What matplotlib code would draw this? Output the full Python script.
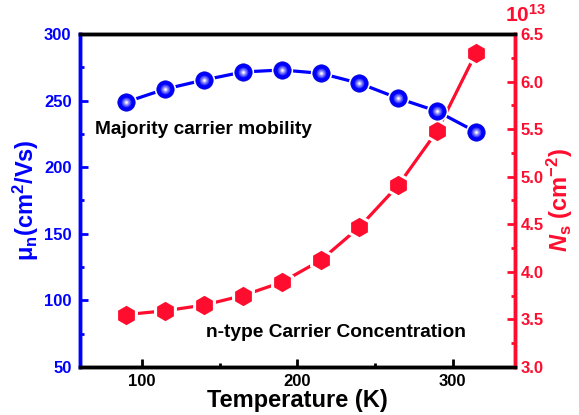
import matplotlib
matplotlib.use("Agg")
import matplotlib.pyplot as plt
from matplotlib.ticker import MultipleLocator, FormatStrFormatter

plt.rcParams['font.family'] = ['Liberation Sans', 'DejaVu Sans']
plt.rcParams['font.weight'] = 'bold'
plt.rcParams['axes.labelweight'] = 'bold'
plt.rcParams['mathtext.fontset'] = 'custom'
plt.rcParams['mathtext.rm'] = 'Liberation Sans:bold'
plt.rcParams['mathtext.it'] = 'Liberation Sans:bold:italic'
plt.rcParams['mathtext.bf'] = 'Liberation Sans:bold'

temperature = [90, 115, 140, 165, 190, 215, 240, 265, 290, 315]
mobility = [249, 258.7, 265.5, 271.5, 273, 270.5, 263, 251.7, 242, 226.5]
concentration = [3.55, 3.59, 3.65, 3.75, 3.89, 4.12, 4.47, 4.91, 5.48, 6.30]

BLUE = '#0000ff'
RED = '#ff0d2e'

fig = plt.figure(figsize=(5.79, 4.15), dpi=100)
ax = fig.add_axes([0.138, 0.116, 0.751, 0.802])
ax2 = ax.twinx()

# mobility line + sphere-like markers
ax.plot(temperature, mobility, color=BLUE, lw=2.3, zorder=2)
ax.plot(temperature, mobility, ls='none', marker='o', ms=13, mfc=BLUE,
        mec='white', mew=2.4, zorder=3)
ax.plot(temperature, mobility, ls='none', marker='o', ms=12.5, mfc=BLUE,
        mec='#0000cc', mew=0.5, zorder=4)
for s, c in [(7.0, '#4040ff'), (5.0, '#7a7aff'), (3.2, '#b8b8ff'), (1.6, 'white')]:
    ax.plot(temperature, mobility, ls='none', marker='o', ms=s, mfc=c,
            mec='none', zorder=5)

# concentration line + hexagon markers
ax2.plot(temperature, concentration, color=RED, lw=2.3, zorder=2)
ax2.plot(temperature, concentration, ls='none', marker='h', ms=16.5, mfc=RED,
         mec='white', mew=2.2, zorder=3)

ax.set_xlim(60, 340)
ax.set_ylim(50, 300)
ax2.set_ylim(3.0, 6.5)

ax.xaxis.set_major_locator(MultipleLocator(100))
ax.xaxis.set_minor_locator(MultipleLocator(50))
ax.yaxis.set_major_locator(MultipleLocator(50))
ax.yaxis.set_minor_locator(MultipleLocator(25))
ax2.yaxis.set_major_locator(MultipleLocator(0.5))
ax2.yaxis.set_minor_locator(MultipleLocator(0.25))
ax2.yaxis.set_major_formatter(FormatStrFormatter('%.1f'))

for a in (ax, ax2):
    for sp in a.spines.values():
        sp.set_linewidth(2.5)
ax.spines['left'].set_color(BLUE)
ax2.spines['left'].set_color(BLUE)
ax.spines['right'].set_color(RED)
ax2.spines['right'].set_color(RED)
ax.spines['top'].set_color('black')
ax.spines['bottom'].set_color('black')

ax.tick_params(axis='x', which='both', direction='in', top=False,
               labelsize=12, colors='black', width=2, pad=5)
ax.tick_params(axis='x', which='major', length=6)
ax.tick_params(axis='x', which='minor', length=3)
ax.tick_params(axis='y', which='both', direction='in', colors=BLUE,
               labelsize=12, width=2, pad=6)
ax.tick_params(axis='y', which='major', length=6)
ax.tick_params(axis='y', which='minor', length=3)
ax2.tick_params(axis='y', which='both', direction='in', colors=RED,
                labelsize=12, width=2, pad=4)
ax2.tick_params(axis='y', which='major', length=6)
ax2.tick_params(axis='y', which='minor', length=3)
for lab in ax.get_xticklabels() + ax.get_yticklabels() + ax2.get_yticklabels():
    lab.set_fontweight('bold')

ax.set_xlabel('Temperature (K)', fontsize=17, fontweight='bold', labelpad=0)
ax.set_ylabel(r'μ$_\mathregular{n}$(cm$^\mathregular{2}$/Vs)', fontsize=17,
              color=BLUE, fontweight='bold', labelpad=2)
ax2.set_ylabel(r'$N_{\mathregular{s}}$ (cm$^\mathregular{-2}$)', fontsize=17,
               color=RED, fontweight='bold', labelpad=1)
ax2.text(1.025, 1.025, r'10$^\mathregular{13}$', transform=ax2.transAxes,
         color=RED, fontsize=15, fontweight='bold', ha='center', va='bottom')

ax.text(0.035, 0.70, 'Majority carrier mobility', transform=ax.transAxes,
        fontsize=13.8, fontweight='bold', color='black')
ax.text(0.29, 0.09, 'n-type Carrier Concentration', transform=ax.transAxes,
        fontsize=13.8, fontweight='bold', color='black')

ax.set_zorder(ax2.get_zorder() + 1)
ax.patch.set_visible(False)

fig.savefig('out.png', dpi=100)
